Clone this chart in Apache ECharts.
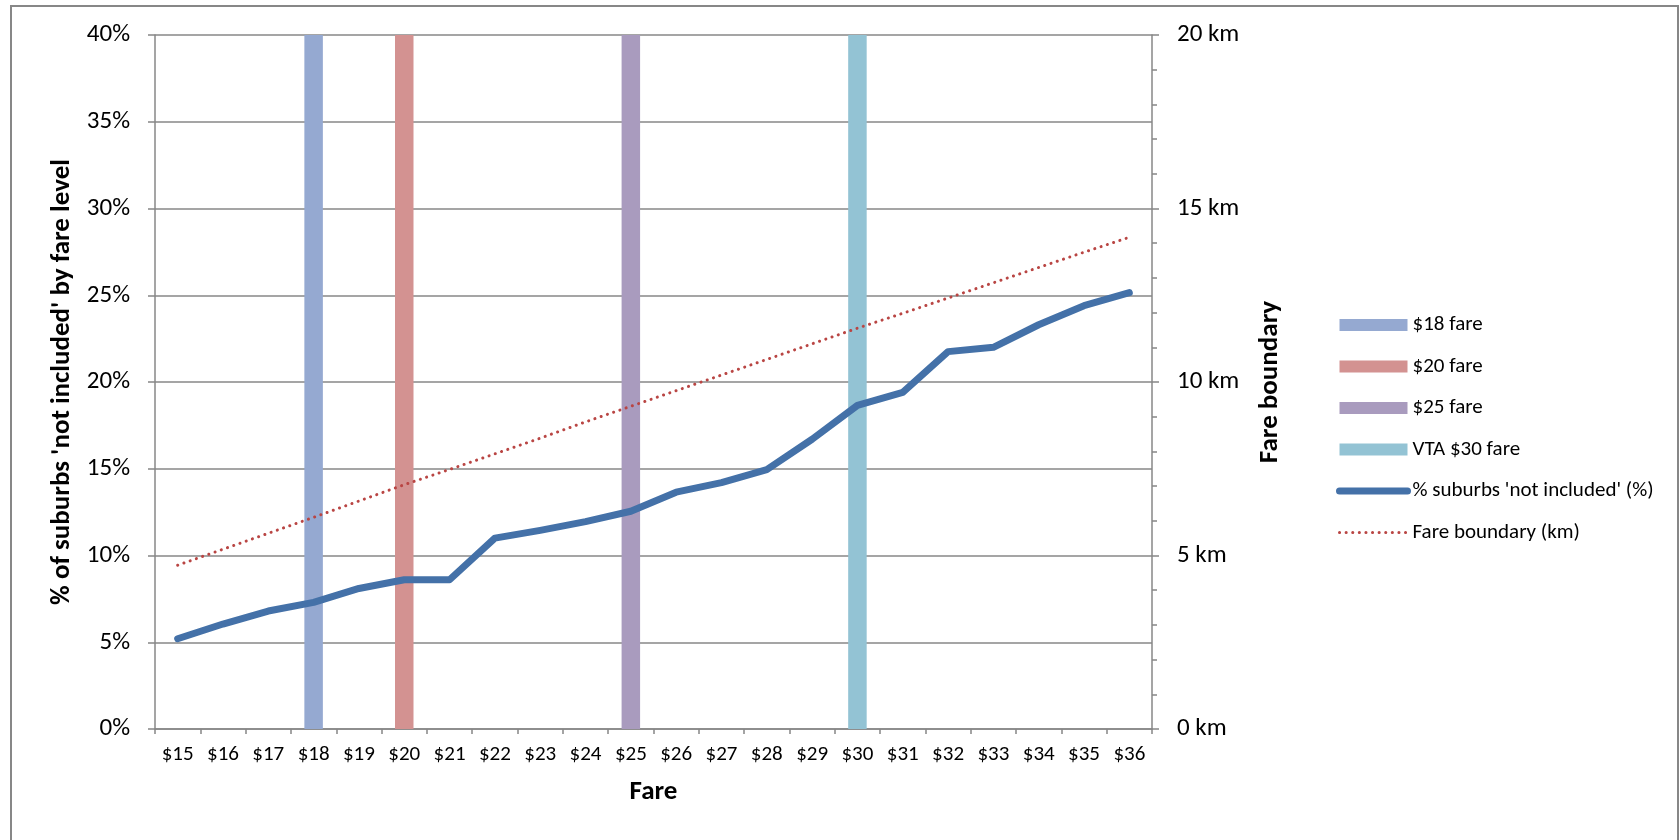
<!DOCTYPE html>
<html>
<head>
<meta charset="utf-8">
<script src="https://cdn.jsdelivr.net/npm/echarts@6/dist/echarts.min.js"></script>
<style>
  html, body { margin: 0; padding: 0; background: #ffffff; }
  #chart { width: 1679px; height: 840px; }
</style>
</head>
<body>
<div id="chart"></div>
<script>
// Fare levels along the horizontal axis
const fares = ['$15', '$16', '$17', '$18', '$19', '$20', '$21', '$22', '$23', '$24', '$25',
               '$26', '$27', '$28', '$29', '$30', '$31', '$32', '$33', '$34', '$35', '$36'];

// Share of suburbs 'not included' at each fare level (%)
const notIncludedPct = [5.2, 6.05, 6.8, 7.3, 8.1, 8.6, 8.6, 11.0, 11.45, 11.95, 12.55,
                        13.65, 14.2, 14.95, 16.7, 18.65, 19.4, 21.75, 22.0, 23.3, 24.4, 25.15];

// Fare boundary distance at each fare level (km)
const boundaryKm = [4.72, 5.18, 5.64, 6.1, 6.57, 7.04, 7.48, 7.93, 8.38, 8.85, 9.3,
                    9.75, 10.2, 10.65, 11.1, 11.55, 11.98, 12.42, 12.86, 13.3, 13.74, 14.17];

// Reference fare markers drawn as full-height columns
const markerNames = ['$18 fare', '$20 fare', '$25 fare', 'VTA $30 fare'];
const markerFares = ['$18', '$20', '$25', '$30'];
const markerHeightPct = 40;
const markerColors = ['#95a9d1', '#d39291', '#a99bbe', '#93c3d4'];

const FONT = 'Carlito, Lato, sans-serif';
const GRID_GRAY = '#878787';
const TITLE_STYLE = { fontFamily: FONT, fontSize: 27, fontWeight: 'bold', color: '#000' };

const chart = echarts.init(document.getElementById('chart'), null, { renderer: 'canvas' });

const markerSeries = markerNames.map((name, i) => ({
  name: name,
  type: 'bar',
  yAxisIndex: 0,
  barWidth: 18.5,
  barGap: '-100%',
  itemStyle: { color: markerColors[i] },
  emphasis: { disabled: true },
  data: fares.map(f => (f === markerFares[i] ? markerHeightPct : null))
}));

chart.setOption({
  animation: false,
  backgroundColor: '#ffffff',
  textStyle: { fontFamily: FONT, color: '#000' },
  graphic: [{
    type: 'rect',
    shape: { x: 11, y: 6, width: 1667, height: 900 },
    style: { fill: 'none', stroke: GRID_GRAY, lineWidth: 2 },
    silent: true,
    z: -10
  }],
  grid: { left: 155, right: 527, top: 35, bottom: 111, containLabel: false },
  legend: {
    orient: 'vertical',
    left: 1331,
    top: 309,
    itemWidth: 68,
    itemHeight: 12,
    itemGap: 19.5,
    selectedMode: false,
    textStyle: { fontFamily: FONT, fontSize: 21, color: '#000', lineHeight: 22 },
    lineStyle: { width: 'inherit', type: 'inherit', cap: 'inherit' },
    data: markerNames.map(n => ({ name: n, icon: 'rect' })).concat([
      // line entries show only the stroke, no point marker
      { name: "% suburbs 'not included' (%)", itemStyle: { opacity: 0 } },
      { name: 'Fare boundary (km)', itemStyle: { opacity: 0 } }
    ])
  },
  xAxis: {
    type: 'category',
    data: fares,
    boundaryGap: true,
    name: 'Fare',
    nameLocation: 'middle',
    nameGap: 50,
    nameTextStyle: TITLE_STYLE,
    axisLine: { show: true, lineStyle: { color: GRID_GRAY, width: 1.5 } },
    axisTick: { show: true, alignWithLabel: false, interval: 0, length: 5, lineStyle: { color: GRID_GRAY, width: 1.5 } },
    axisLabel: { interval: 0, margin: 15, fontFamily: FONT, fontSize: 21, color: '#000' },
    splitLine: { show: false }
  },
  yAxis: [{
    type: 'value',
    position: 'left',
    min: 0,
    max: 40,
    interval: 5,
    name: "% of suburbs 'not included' by fare level",
    nameLocation: 'middle',
    nameRotate: 90,
    nameGap: 79,
    nameTextStyle: TITLE_STYLE,
    axisLine: { show: true, lineStyle: { color: GRID_GRAY, width: 1.5 } },
    axisTick: { show: true, length: 7, lineStyle: { color: GRID_GRAY, width: 1.5 } },
    axisLabel: { margin: 25, fontFamily: FONT, fontSize: 25, color: '#000', formatter: v => v + '%' },
    splitLine: { show: true, lineStyle: { color: GRID_GRAY, width: 1.5 } }
  }, {
    type: 'value',
    position: 'right',
    min: 0,
    max: 20,
    interval: 5,
    name: 'Fare boundary',
    nameLocation: 'middle',
    nameRotate: 90,
    nameGap: 105,
    nameTextStyle: TITLE_STYLE,
    axisLine: { show: true, lineStyle: { color: GRID_GRAY, width: 1.5 } },
    axisTick: { show: true, length: 7, lineStyle: { color: GRID_GRAY, width: 1.5 } },
    minorTick: { show: true, splitNumber: 5, length: 5, lineStyle: { color: GRID_GRAY, width: 1.5 } },
    axisLabel: { margin: 25, fontFamily: FONT, fontSize: 25, color: '#000', formatter: v => v + ' km' },
    splitLine: { show: false },
    minorSplitLine: { show: false }
  }],
  series: markerSeries.concat([{
    name: "% suburbs 'not included' (%)",
    type: 'line',
    yAxisIndex: 0,
    symbol: 'none',
    smooth: false,
    lineStyle: { color: '#4471a8', width: 7, cap: 'round', join: 'round' },
    itemStyle: { color: '#4471a8' },
    emphasis: { disabled: true },
    z: 3,
    data: notIncludedPct
  }, {
    name: 'Fare boundary (km)',
    type: 'line',
    yAxisIndex: 1,
    symbol: 'none',
    smooth: false,
    lineStyle: { color: '#b94543', width: 3, type: [0.1, 6.5], cap: 'round' },
    itemStyle: { color: '#b94543' },
    emphasis: { disabled: true },
    z: 4,
    data: boundaryKm
  }])
});
</script>
</body>
</html>
